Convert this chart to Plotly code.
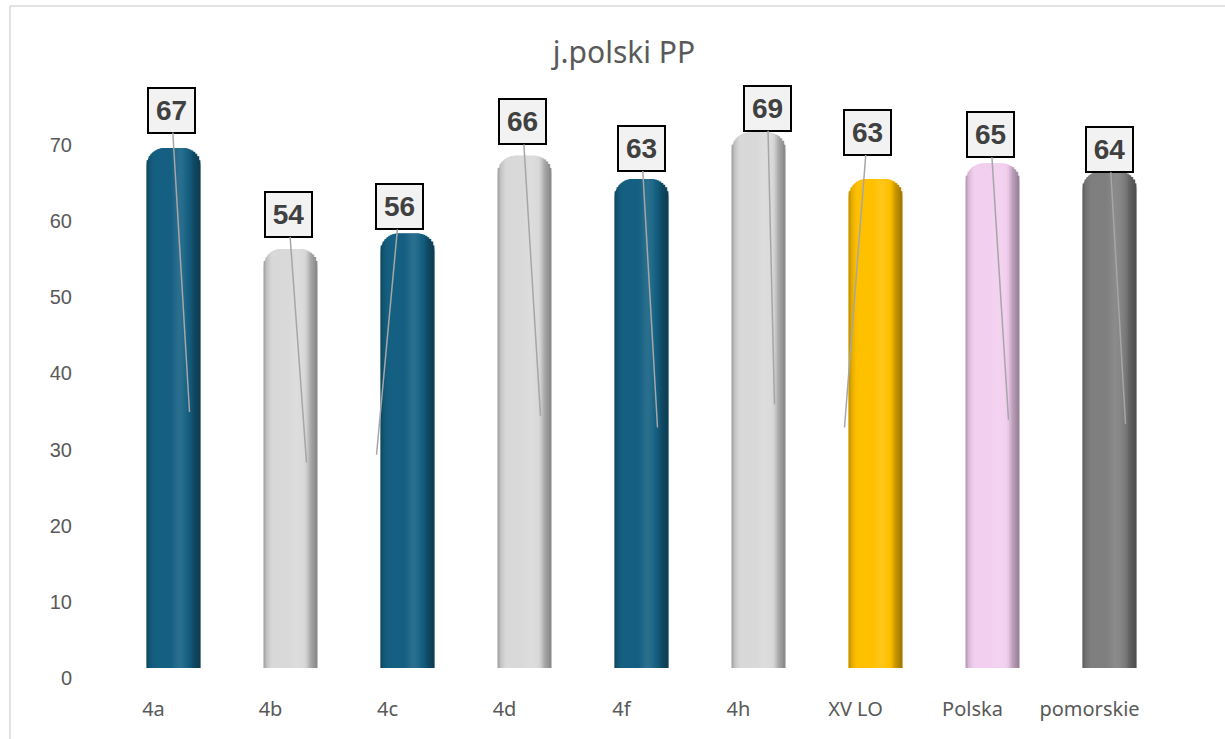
import math
import plotly.graph_objects as go

# --- data -------------------------------------------------------------
categories = ["4a", "4b", "4c", "4d", "4f", "4h", "XV LO", "Polska", "pomorskie"]
scores = [67, 54, 56, 66, 63, 69, 63, 65, 64]
y_ticks = [0, 10, 20, 30, 40, 50, 60, 70]

# --- styling ----------------------------------------------------------
base_colors = ["#156082", "#d9d9d9", "#156082", "#d9d9d9", "#156082",
               "#d9d9d9", "#ffc000", "#f2ceef", "#7f7f7f"]

# leader-line anchor shift (px) and label offset from anchor (px)
anchor_dx = [16, 16, -31, 16, 16, 16, -31, 16, 16]
label_dx = [-18, -18, 23, -18, -16, -7, 23, -18, -16]
label_dy = [-302, -248, -248, -294, -279, -296, -295, -285, -274]

# brightness across a cylinder, left edge (0) to right edge (1)
shade_profile = [(0.0, 0.72), (0.06, 0.9), (0.15, 1.0), (0.45, 1.0),
                 (0.6, 1.1), (0.7, 1.06), (0.8, 0.95), (0.88, 0.76),
                 (1.0, 0.62)]

W, H = 1225, 739
ML, MR, MT, MB = 95, 77, 90, 61
plot_w = W - ML - MR
plot_h = H - MT - MB
px_per_unit_axis = 7.614     # back-wall scale of the value axis
px_per_unit_bar = 7.76       # front scale of the cylinders
bar_lift = 10                # cylinders sit slightly above the floor line
cat_px = plot_w / len(categories)
bar_shift = 20 / cat_px      # cylinders stand a little right of their labels

BAR_W = 0.46
BAR_PX = BAR_W * cat_px
CORNER = 18                  # px radius of the rounded cylinder tops
N_STRIPS = 27
n = len(categories)


def hex_to_rgb(h):
    h = h.lstrip("#")
    return [int(h[i:i + 2], 16) for i in (0, 2, 4)]


def shade(hex_color, f):
    r, g, b = hex_to_rgb(hex_color)
    if f < 1:
        r, g, b = (c * f for c in (r, g, b))
    else:
        k = f - 1
        r, g, b = (c + (255 - c) * k for c in (r, g, b))
    return "rgb({:.0f},{:.0f},{:.0f})".format(r, g, b)


def profile_at(t):
    for (t0, f0), (t1, f1) in zip(shade_profile, shade_profile[1:]):
        if t0 <= t <= t1:
            return f0 + (f1 - f0) * (t - t0) / (t1 - t0)
    return shade_profile[-1][1]


def corner_drop(d):
    """Vertical px lost to the rounded corner at d px from the side."""
    if d >= CORNER:
        return 0.0
    return CORNER - math.sqrt(max(CORNER ** 2 - (CORNER - d) ** 2, 0.0))


fig = go.Figure()

# invisible trace keeps the category axis populated
fig.add_trace(go.Scatter(x=categories, y=[0] * n, mode="markers",
                         marker=dict(opacity=0), hoverinfo="skip",
                         showlegend=False, xaxis="x", yaxis="y"))

# cylinder bodies
fig.add_trace(go.Bar(
    x=categories, y=scores, width=[BAR_W] * n, offset=-BAR_W / 2,
    marker=dict(color=[shade(c, 0.9) for c in base_colors],
                cornerradius=CORNER, line=dict(width=0)),
    xaxis="x2", yaxis="y2", showlegend=False, hoverinfo="skip"))

# vertical shading strips following the rounded top of each cylinder
step = BAR_W / N_STRIPS
for k in range(N_STRIPS):
    t = (k + 0.5) / N_STRIPS
    d = min(t, 1 - t) * BAR_PX          # px from the nearest side
    drop = corner_drop(d) / px_per_unit_bar
    w = step * 1.4 if k < N_STRIPS - 1 else step
    fig.add_trace(go.Bar(
        x=categories, y=[v - drop for v in scores],
        width=[w] * n, offset=-BAR_W / 2 + k * step,
        marker=dict(color=[shade(c, profile_at(t)) for c in base_colors],
                    line=dict(width=0)),
        xaxis="x2", yaxis="y2", showlegend=False, hoverinfo="skip"))

# value labels with leader lines into the cylinders
for i, (c, v) in enumerate(zip(categories, scores)):
    fig.add_annotation(
        x=c, y=v / 2, xref="x2", yref="y2",
        xshift=anchor_dx[i], yshift=-4,
        ax=label_dx[i], ay=label_dy[i],
        text=f"<b>{v}</b>", showarrow=True, arrowhead=0, arrowwidth=1.5,
        arrowcolor="#a6a6a6", standoff=0, startstandoff=0,
        font=dict(family="Liberation Sans, Arial", size=28, color="#404040"),
        bgcolor="#f2f2f2", bordercolor="#000000", borderwidth=2,
        borderpad=1, width=43, height=41, align="center", valign="middle")


# chart frame
def px_to_paper_x(px):
    return (px - ML) / plot_w


def px_to_paper_y(py):
    return (H - MB - py) / plot_h


fig.add_shape(type="rect", xref="paper", yref="paper",
              x0=px_to_paper_x(10), x1=px_to_paper_x(W + 20),
              y0=px_to_paper_y(H + 20), y1=px_to_paper_y(6),
              line=dict(color="#d9d9d9", width=1.5), fillcolor="rgba(0,0,0,0)",
              layer="below")

y_top_axis = plot_h / px_per_unit_axis
y2_bottom = -bar_lift / px_per_unit_bar
y2_top = (plot_h - bar_lift) / px_per_unit_bar

fig.update_layout(
    width=W, height=H,
    margin=dict(l=ML, r=MR, t=MT, b=MB),
    paper_bgcolor="white", plot_bgcolor="white",
    barmode="overlay",
    title=dict(text="j.polski PP", x=624 / W, xanchor="center",
               y=1 - 52 / H, yanchor="middle", yref="container",
               font=dict(family="Noto Sans", size=30, color="#595959")),
    xaxis=dict(type="category", categoryorder="array", categoryarray=categories,
               range=[-0.5, n - 0.5], showgrid=False, zeroline=False,
               showline=False, ticks="", ticklabelstandoff=17,
               tickfont=dict(family="Noto Sans", size=20, color="#595959")),
    yaxis=dict(range=[0, y_top_axis], tickvals=y_ticks, showgrid=False,
               zeroline=False, showline=False, ticks="", ticklabelstandoff=22,
               tickfont=dict(family="Liberation Sans, Arial", size=20,
                             color="#595959")),
    xaxis2=dict(type="category", categoryorder="array", categoryarray=categories,
                overlaying="x", range=[-0.5 - bar_shift, n - 0.5 - bar_shift],
                visible=False),
    yaxis2=dict(overlaying="y", range=[y2_bottom, y2_top], visible=False),
)

fig.write_html("out.html")
